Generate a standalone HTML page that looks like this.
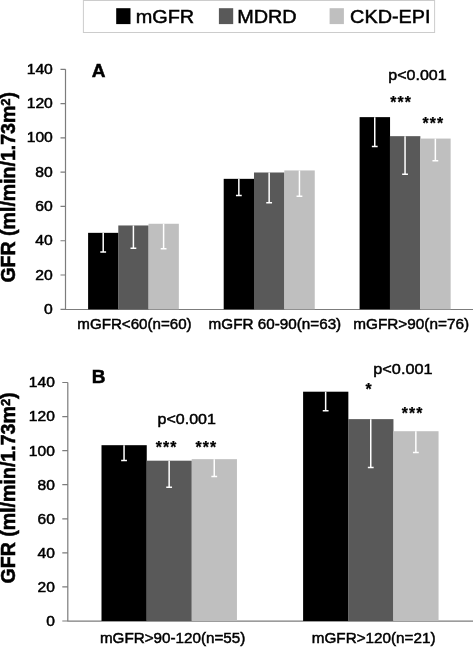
<!DOCTYPE html>
<html>
<head>
<meta charset="utf-8">
<title>GFR chart</title>
<style>
html,body{margin:0;padding:0;background:#fff;}
body{width:473px;height:647px;overflow:hidden;}
svg{display:block;font-family:"Liberation Sans",Arial,Helvetica,sans-serif;fill:#000;}
.ax{stroke:#7c7c7c;stroke-width:1.2;fill:none;}
.eb{stroke:#fff;stroke-width:1.5;fill:none;}
.k{fill:#000;}
.d{fill:#595959;}
.l{fill:#bfbfbf;}
</style>
</head>
<body>
<svg width="473" height="647" viewBox="0 0 473 647">

<!-- legend -->
<rect x="83.4" y="0.5" width="351.2" height="32" fill="#fff" stroke="#cccccc" stroke-width="1"/>
<rect x="116.2" y="8.2" width="14.3" height="15.9" class="k"/>
<text transform="translate(135.71,22.90) scale(1.0465,1)" font-size="19" stroke="#000" stroke-width="0.5">mGFR</text>
<rect x="218.9" y="8.2" width="14.3" height="15.9" class="d"/>
<text transform="translate(237.21,22.90) scale(1.0445,1)" font-size="19" stroke="#000" stroke-width="0.5">MDRD</text>
<rect x="329.6" y="8.2" width="14.3" height="15.9" class="l"/>
<text transform="translate(350.11,22.90) scale(1.0437,1)" font-size="19" stroke="#000" stroke-width="0.5">CKD-EPI</text>
<!-- chart A -->
<g id="chartA">
<text transform="translate(15.00,282.58) rotate(-90) scale(0.9535,1)" font-size="20.5" font-weight="bold" stroke="#000" stroke-width="0.55">GFR (ml/min/1.73m<tspan dy="-5.0" font-size="13.5">2</tspan><tspan dy="5.0">)</tspan></text>
<text transform="translate(91.82,77.30) scale(1.0000,1)" font-size="19" font-weight="bold" stroke="#000" stroke-width="0.5">A</text>
<text transform="translate(44.12,313.80) scale(1.0700,1)" font-size="14.7" stroke="#000" stroke-width="0.5">0</text>
<text transform="translate(35.37,279.51) scale(1.0700,1)" font-size="14.7" stroke="#000" stroke-width="0.5">20</text>
<text transform="translate(35.37,245.23) scale(1.0700,1)" font-size="14.7" stroke="#000" stroke-width="0.5">40</text>
<text transform="translate(35.37,210.94) scale(1.0700,1)" font-size="14.7" stroke="#000" stroke-width="0.5">60</text>
<text transform="translate(35.37,176.66) scale(1.0700,1)" font-size="14.7" stroke="#000" stroke-width="0.5">80</text>
<text transform="translate(26.63,142.37) scale(1.0700,1)" font-size="14.7" stroke="#000" stroke-width="0.5">100</text>
<text transform="translate(26.63,108.09) scale(1.0700,1)" font-size="14.7" stroke="#000" stroke-width="0.5">120</text>
<text transform="translate(26.63,73.80) scale(1.0700,1)" font-size="14.7" stroke="#000" stroke-width="0.5">140</text>
<path class="ax" d="M65.5,69.3V309.5H473 M60.5,309.30H65.5 M60.5,275.01H65.5 M60.5,240.73H65.5 M60.5,206.44H65.5 M60.5,172.16H65.5 M60.5,137.87H65.5 M60.5,103.59H65.5 M60.5,69.30H65.5"/>
<rect class="k" x="88.10" y="232.84" width="30.35" height="76.46"/>
<rect class="d" x="118.30" y="225.47" width="30.35" height="83.83"/>
<rect class="l" x="148.50" y="223.76" width="30.35" height="85.54"/>
<path class="eb" d="M103.20,232.84V252.10M100.30,251.90H106.10M133.40,225.47V248.40M130.50,248.20H136.30M163.60,223.76V249.00M160.70,248.80H166.50"/>
<rect class="k" x="223.70" y="178.84" width="30.45" height="130.46"/>
<rect class="d" x="254.00" y="172.50" width="30.45" height="136.80"/>
<rect class="l" x="284.30" y="170.44" width="30.45" height="138.86"/>
<path class="eb" d="M238.85,178.84V195.80M235.95,195.60H241.75M269.15,172.50V202.90M266.25,202.70H272.05M299.45,170.44V196.50M296.55,196.30H302.35"/>
<rect class="k" x="359.60" y="117.13" width="30.45" height="192.17"/>
<rect class="d" x="389.90" y="136.16" width="30.45" height="173.14"/>
<rect class="l" x="420.20" y="138.56" width="30.45" height="170.74"/>
<path class="eb" d="M374.75,117.13V146.70M371.85,146.50H377.65M405.05,136.16V174.50M402.15,174.30H407.95M435.35,138.56V161.00M432.45,160.80H438.25"/>
<text transform="translate(77.29,329.40) scale(0.9893,1)" font-size="15.3" stroke="#000" stroke-width="0.5">mGFR&lt;60(n=60)</text>
<text transform="translate(208.58,329.40) scale(0.9974,1)" font-size="15.3" stroke="#000" stroke-width="0.5">mGFR 60-90(n=63)</text>
<text transform="translate(353.18,329.40) scale(1.0034,1)" font-size="15.3" stroke="#000" stroke-width="0.5">mGFR&gt;90(n=76)</text>
<text transform="translate(388.34,80.30) scale(1.0344,1)" font-size="15.5" stroke="#000" stroke-width="0.5">p&lt;0.001</text>
<text x="390.30" y="108.30" font-size="15.8" font-weight="bold" letter-spacing="1.1" stroke="#000" stroke-width="0.25">***</text>
<text x="422.60" y="129.30" font-size="15.8" font-weight="bold" letter-spacing="1.1" stroke="#000" stroke-width="0.25">***</text>
</g>
<!-- chart B -->
<g id="chartB">
<text transform="translate(15.40,583.58) rotate(-90) scale(0.9561,1)" font-size="20.5" font-weight="bold" stroke="#000" stroke-width="0.55">GFR (ml/min/1.73m<tspan dy="-5.0" font-size="13.5">2</tspan><tspan dy="5.0">)</tspan></text>
<text transform="translate(91.76,382.60) scale(1.0000,1)" font-size="19" font-weight="bold" stroke="#000" stroke-width="0.5">B</text>
<text transform="translate(46.18,625.90) scale(1.0700,1)" font-size="14.6" stroke="#000" stroke-width="0.5">0</text>
<text transform="translate(37.49,591.83) scale(1.0700,1)" font-size="14.6" stroke="#000" stroke-width="0.5">20</text>
<text transform="translate(37.49,557.76) scale(1.0700,1)" font-size="14.6" stroke="#000" stroke-width="0.5">40</text>
<text transform="translate(37.49,523.69) scale(1.0700,1)" font-size="14.6" stroke="#000" stroke-width="0.5">60</text>
<text transform="translate(37.49,489.61) scale(1.0700,1)" font-size="14.6" stroke="#000" stroke-width="0.5">80</text>
<text transform="translate(28.80,455.54) scale(1.0700,1)" font-size="14.6" stroke="#000" stroke-width="0.5">100</text>
<text transform="translate(28.80,421.47) scale(1.0700,1)" font-size="14.6" stroke="#000" stroke-width="0.5">120</text>
<text transform="translate(28.80,387.40) scale(1.0700,1)" font-size="14.6" stroke="#000" stroke-width="0.5">140</text>
<path class="ax" d="M67.8,382.5V621.2H473 M62.3,621.00H67.8 M62.3,586.93H67.8 M62.3,552.86H67.8 M62.3,518.79H67.8 M62.3,484.71H67.8 M62.3,450.64H67.8 M62.3,416.57H67.8 M62.3,382.50H67.8"/>
<rect class="k" x="101.50" y="445.19" width="45.25" height="175.81"/>
<rect class="d" x="146.60" y="460.69" width="45.25" height="160.31"/>
<rect class="l" x="191.70" y="459.16" width="45.25" height="161.84"/>
<path class="eb" d="M124.05,445.19V460.80M121.15,460.60H126.95M169.15,460.69V487.40M166.25,487.20H172.05M214.25,459.16V476.80M211.35,476.60H217.15"/>
<rect class="k" x="303.10" y="391.70" width="45.25" height="229.30"/>
<rect class="d" x="348.20" y="419.13" width="45.25" height="201.87"/>
<rect class="l" x="393.30" y="431.22" width="45.25" height="189.78"/>
<path class="eb" d="M325.65,391.70V410.90M322.75,410.70H328.55M370.75,419.13V467.60M367.85,467.40H373.65M415.85,431.22V452.70M412.95,452.50H418.75"/>
<text transform="translate(99.89,643.40) scale(0.9949,1)" font-size="15.3" stroke="#000" stroke-width="0.5">mGFR&gt;90-120(n=55)</text>
<text transform="translate(311.78,643.40) scale(0.9973,1)" font-size="15.3" stroke="#000" stroke-width="0.5">mGFR&gt;120(n=21)</text>
<text transform="translate(157.54,423.60) scale(1.0344,1)" font-size="15.5" stroke="#000" stroke-width="0.5">p&lt;0.001</text>
<text transform="translate(373.32,374.20) scale(1.0508,1)" font-size="15.5" stroke="#000" stroke-width="0.5">p&lt;0.001</text>
<text x="155.70" y="453.30" font-size="15.8" font-weight="bold" letter-spacing="1.1" stroke="#000" stroke-width="0.25">***</text>
<text x="195.40" y="453.30" font-size="15.8" font-weight="bold" letter-spacing="1.1" stroke="#000" stroke-width="0.25">***</text>
<text x="365.50" y="395.40" font-size="15.8" font-weight="bold" letter-spacing="1.1" stroke="#000" stroke-width="0.25">*</text>
<text x="401.80" y="419.20" font-size="15.8" font-weight="bold" letter-spacing="1.1" stroke="#000" stroke-width="0.25">***</text>
</g>
</svg>
</body>
</html>
